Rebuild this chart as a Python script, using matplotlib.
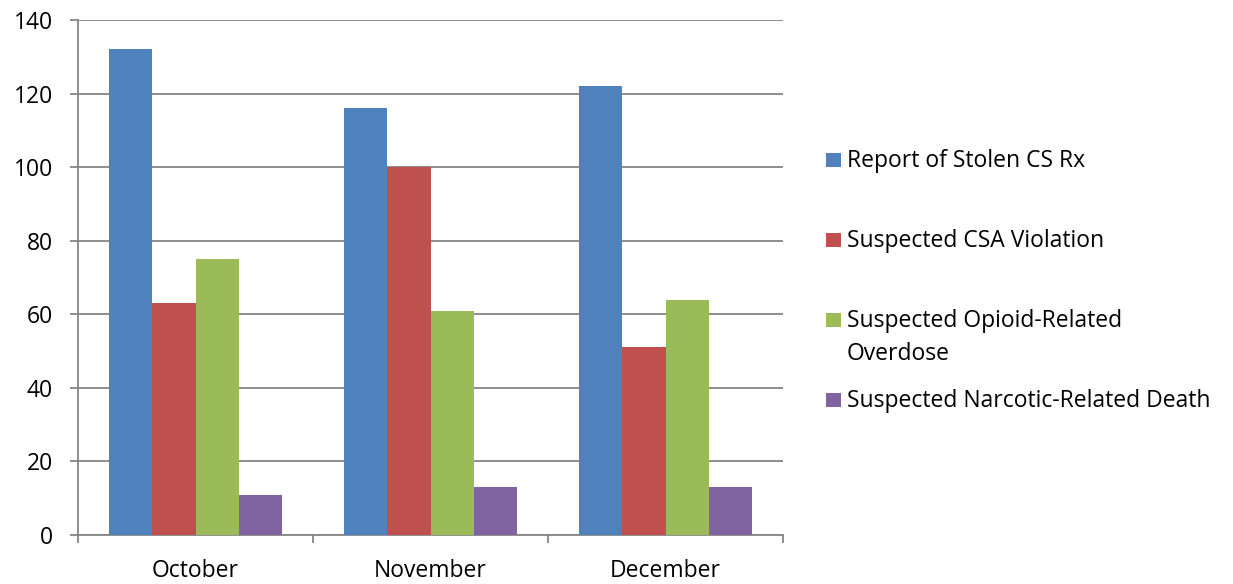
import matplotlib
matplotlib.use("Agg")
import matplotlib.pyplot as plt
from matplotlib.patches import Rectangle
import numpy as np

months = ["October", "November", "December"]
series_names = ["Report of Stolen CS Rx", "Suspected CSA Violation",
                "Suspected Opioid-Related\nOverdose", "Suspected Narcotic-Related Death"]
stolen_rx = [132, 116, 122]
csa_violation = [63, 100, 51]
opioid_overdose = [75, 61, 64]
narcotic_death = [11, 13, 13]
y_ticks = [0, 20, 40, 60, 80, 100, 120, 140]

series = [stolen_rx, csa_violation, opioid_overdose, narcotic_death]
colors = ["#4F81BD", "#C0504D", "#9BBB59", "#8064A2"]

plt.rcParams['font.family'] = ['Open Sans', 'DejaVu Sans']
FS = 16.5

W, H = 1233, 584
fig = plt.figure(figsize=(W/100, H/100), dpi=100)
ax = fig.add_axes([78/W, 1-535/H, (783-78)/W, (535-20)/H])

x = np.arange(len(months))
bw = 0.183
for i, (vals, c) in enumerate(zip(series, colors)):
    ax.bar(x + (i-1.5)*bw, vals, width=bw, color=c, edgecolor='none', zorder=3)

ax.set_xlim(-0.5, 2.5)
ax.set_ylim(0, 140)
ax.set_yticks(y_ticks)
ax.grid(axis='y', color='#868686', linewidth=1.3, zorder=0)
ax.set_axisbelow(True)
for s in ['top', 'right']:
    ax.spines[s].set_visible(False)
for s in ['left', 'bottom']:
    ax.spines[s].set_color('#868686')
    ax.spines[s].set_linewidth(1.3)

ax.set_xticks(x)
ax.set_xticklabels(months)
ax.set_xticks([-0.5, 0.5, 1.5, 2.5], minor=True)
ax.tick_params(axis='x', which='major', length=0, pad=17, labelsize=FS)
ax.tick_params(axis='x', which='minor', length=6, width=1.3, color='#868686', direction='out')
ax.tick_params(axis='y', length=6, width=1.3, color='#868686', pad=12, labelsize=FS)

# legend drawn manually
leg_y = [160, 240, 320, 400]
for name, c, yy in zip(series_names, colors, leg_y):
    fig.patches.append(Rectangle((826/W, 1-(yy+7)/H), 15/W, 14/H, transform=fig.transFigure,
                                 facecolor=c, edgecolor='none'))
    for k, line in enumerate(name.split('\n')):
        fig.text(847/W, 1-(yy+7+33*k)/H, line, fontsize=FS, va='baseline', ha='left')

fig.savefig("out.png", dpi=100)
